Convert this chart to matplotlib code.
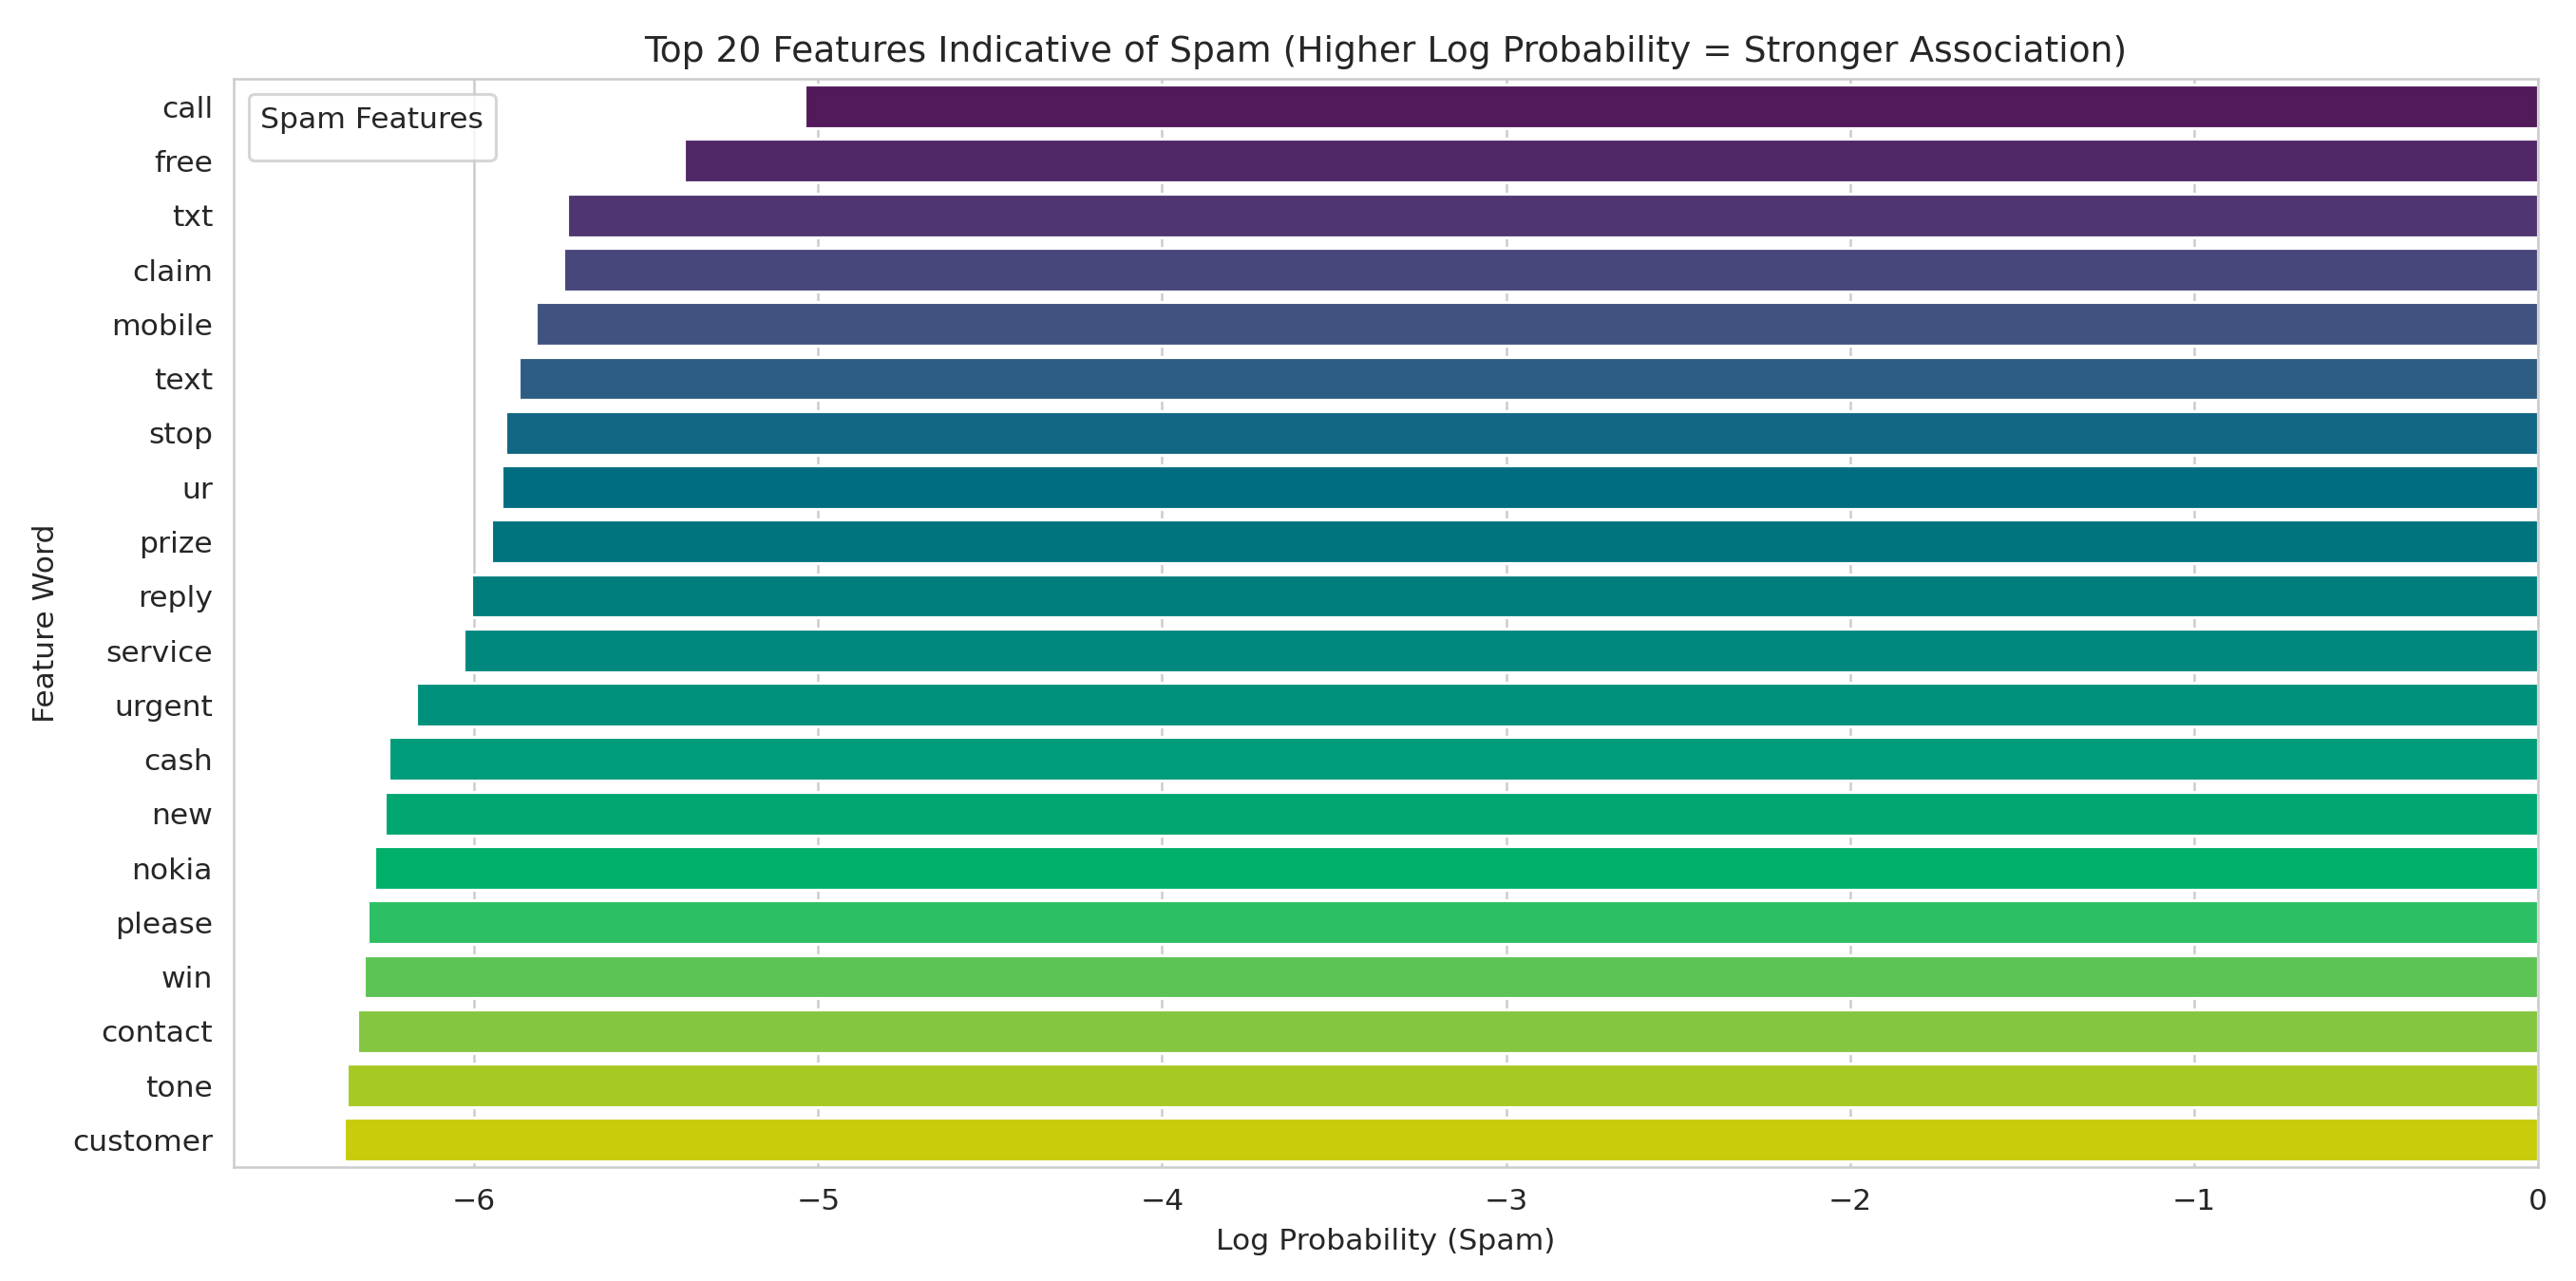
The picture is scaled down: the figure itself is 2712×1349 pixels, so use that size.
import numpy as np
import pandas as pd
import seaborn as sns
import matplotlib
matplotlib.use('Agg')
import matplotlib.pyplot as plt

# top 20 spam features and their log probabilities
features = ['call', 'free', 'txt', 'claim', 'mobile', 'text', 'stop', 'ur', 'prize', 'reply',
            'service', 'urgent', 'cash', 'new', 'nokia', 'please', 'win', 'contact', 'tone', 'customer']
log_probs = [-5.04, -5.39, -5.73, -5.74, -5.82, -5.87, -5.91, -5.92, -5.95, -6.01,
             -6.03, -6.17, -6.25, -6.26, -6.29, -6.31, -6.32, -6.34, -6.37, -6.38]

# bar colours (viridis-like)
bar_colors = ['#52195b', '#502868', '#4f3673', '#48477b', '#3f5280', '#2e5d84', '#116683',
              '#006d80', '#00747e', '#007e7c', '#00877e', '#00917c', '#009b78', '#00a672',
              '#00b06a', '#2dbf64', '#5ec355', '#85c640', '#a6c924', '#c8cc0a']

df = pd.DataFrame({'feature': features, 'log_prob': log_probs})

sns.set_style('whitegrid')
plt.rcParams['font.family'] = ['DejaVu Sans']

fig, ax = plt.subplots(figsize=(12, 5.97), dpi=226)
sns.barplot(data=df, x='log_prob', y='feature', hue='feature', palette=bar_colors,
            saturation=1, legend=False, ax=ax)

ax.set_title('Top 20 Features Indicative of Spam (Higher Log Probability = Stronger Association)')
ax.set_xlabel('Log Probability (Spam)')
ax.set_ylabel('Feature Word')

# legend has only a title, no entries
ax.legend(handles=[], title='Spam Features', loc='upper left')

plt.subplots_adjust(left=0.0907, right=0.9853, top=0.938, bottom=0.089)
plt.savefig('out.png', dpi=226)
